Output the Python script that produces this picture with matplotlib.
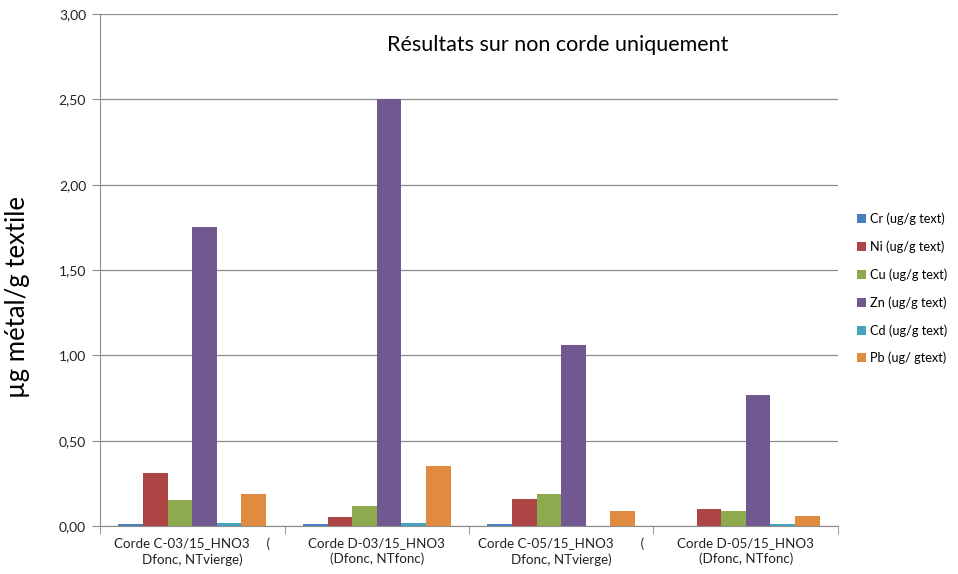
import matplotlib.pyplot as plt
import numpy as np
from matplotlib.ticker import FuncFormatter, FixedLocator

# ---------------------------------------------------------------------------
# Données (µg métal / g textile)
# ---------------------------------------------------------------------------
categories = [
    "Corde C-03/15_HNO3     (\nDfonc, NTvierge)",
    "Corde D-03/15_HNO3\n(Dfonc, NTfonc)",
    "Corde C-05/15_HNO3        (\nDfonc, NTvierge)",
    "Corde D-05/15_HNO3\n(Dfonc, NTfonc)",
]
series_names = [
    "Cr (ug/g text)",
    "Ni (ug/g text)",
    "Cu (ug/g text)",
    "Zn (ug/g text)",
    "Cd (ug/g text)",
    "Pb (ug/ gtext)",
]
cr = [0.01, 0.01, 0.01, 0.00]
ni = [0.31, 0.05, 0.16, 0.10]
cu = [0.15, 0.12, 0.19, 0.09]
zn = [1.75, 2.50, 1.06, 0.77]
cd = [0.02, 0.02, 0.00, 0.01]
pb = [0.19, 0.35, 0.09, 0.06]

colors = ["#4A7EBB", "#AD4545", "#8DAA4E", "#725890", "#46A3BE", "#E08B3F"]

plt.rcParams["font.family"] = ["Lato", "DejaVu Sans"]

fig = plt.figure(figsize=(9.58, 5.74), dpi=100)
ax = fig.add_axes([0.1044, 0.0836, 0.7703, 0.892])

n = len(series_names)
x = np.arange(len(categories))
bw = 0.8 / n
for i, (vals, name) in enumerate(zip([cr, ni, cu, zn, cd, pb], series_names)):
    ax.bar(x - 0.4 + bw * (i + 0.5), vals, bw, color=colors[i], label=name,
           zorder=3, linewidth=0)

ax.set_xlim(-0.5, len(categories) - 0.5)
ax.set_ylim(0, 3.0)
ax.set_yticks(np.arange(0, 3.01, 0.5))
ax.yaxis.set_major_formatter(FuncFormatter(lambda v, p: f"{v:.2f}".replace(".", ",")))
ax.grid(axis="y", color="#8C8C8C", linewidth=0.9, zorder=0)

# étiquettes de catégories centrées, ticks aux frontières
ax.set_xticks(x)
ax.set_xticklabels(categories, fontsize=9.6, color="#222222", linespacing=1.35)
ax.tick_params(axis="x", length=0, pad=8)
ax.xaxis.set_minor_locator(FixedLocator(np.arange(-0.5, len(categories), 1.0)))
ax.tick_params(axis="x", which="minor", length=6, color="#8C8C8C")
ax.tick_params(axis="y", length=6, color="#8C8C8C", labelsize=10, labelcolor="#222222", pad=4)

for s in ["top", "right"]:
    ax.spines[s].set_visible(False)
for s in ["left", "bottom"]:
    ax.spines[s].set_color("#8C8C8C")

ax.set_ylabel("µg métal/g textile", fontsize=18.5)
ax.yaxis.set_label_coords(-0.095, 0.447)
ax.text(0.62, 0.94, "Résultats sur non corde uniquement", transform=ax.transAxes,
        ha="center", va="center", fontsize=15.5)

leg = ax.legend(loc="center left", bbox_to_anchor=(1.01, 0.464), frameon=False,
                fontsize=9.2, handlelength=0.7, handleheight=0.7, handletextpad=0.3,
                labelspacing=1.2, borderaxespad=0.5)

fig.savefig("out.png", dpi=100)
